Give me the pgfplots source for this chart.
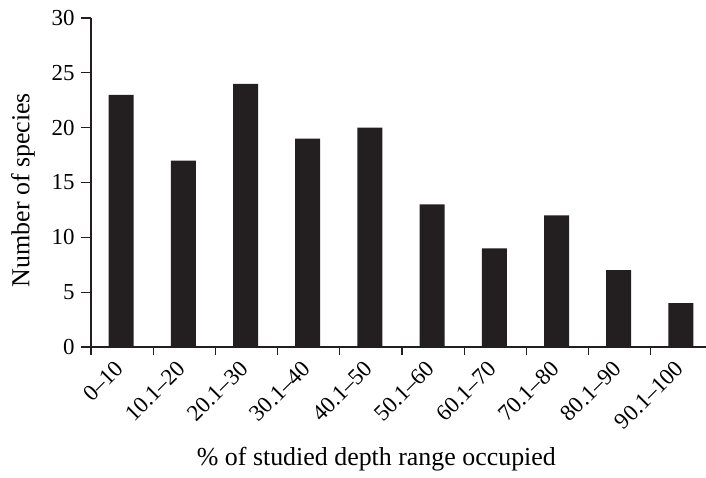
\documentclass[border=0pt]{standalone}
\usepackage{fontspec}
\setmainfont{Liberation Serif}
\usepackage{pgfplots}
\pgfplotsset{compat=1.18}
\definecolor{barc}{HTML}{231F20}
\begin{document}
\begin{tikzpicture}
\begin{axis}[
  scale only axis, width=615bp, height=329bp,
  xmin=-0.5, xmax=9.387, ymin=0, ymax=30,
  axis x line=bottom, axis y line=left,
  axis line style={-, draw=barc, line width=1.1bp},
  tick align=outside,
  major tick length=10bp, minor tick length=8bp,
  tick style={draw=barc, line width=1.1bp},
  xtick={0,...,9},
  xticklabels={0–10,10.1–20,20.1–30,30.1–40,40.1–50,50.1–60,60.1–70,70.1–80,80.1–90,90.1–100},
  major x tick style={draw=none},
  minor xtick={-0.5,0.5,...,8.5},
  ytick={0,5,...,30},
  /pgf/number format/assume math mode=true,
  tick label style={font=\fontsize{23}{27}\selectfont, text=black},
  yticklabel style={xshift=-3bp},
  xticklabel style={xshift=-8bp,yshift=-2bp,rotate=45,anchor=north east,inner sep=0pt},
  label style={font=\fontsize{26}{30}\selectfont},
  xlabel={\% of studied depth range occupied},
  ylabel={Number of species},
  xlabel style={at={(axis description cs:0.464,-0.3587)}, anchor=base},
  ylabel style={at={(axis description cs:-0.1,0.477)}, anchor=base},
]
\addplot[ybar, bar width=25bp, fill=barc, draw=none, bar shift=-1bp] coordinates {
  (0,23) (1,17) (2,24) (3,19) (4,20) (5,13) (6,9) (7,12) (8,7) (9,4)};
\end{axis}
\pgfresetboundingbox
\path[use as bounding box] ([shift={(-91bp,-131bp)}]current axis.south west) rectangle ([shift={(0bp,18bp)}]current axis.north east);
\end{tikzpicture}
\end{document}
